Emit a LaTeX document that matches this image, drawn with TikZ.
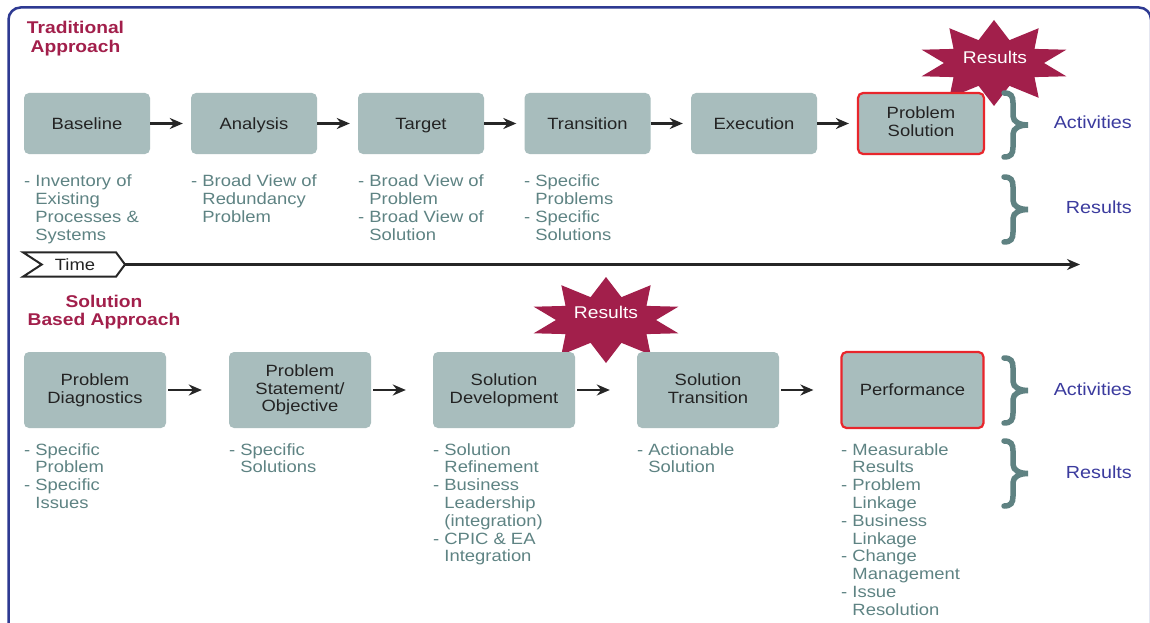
\documentclass[tikz,border=0pt]{standalone}
\usepackage{fontspec}
\setmainfont{Liberation Sans}[FakeStretch=1.13]
\usetikzlibrary{arrows.meta,calc}
\definecolor{boxfill}{HTML}{A8BDBD}
\definecolor{boxtext}{HTML}{232323}
\definecolor{listc}{HTML}{5E8383}
\definecolor{brc}{HTML}{5F8282}
\definecolor{lblue}{HTML}{3B3B9E}
\definecolor{crim}{HTML}{A21F4B}
\definecolor{hired}{HTML}{E8262C}
\definecolor{frameblue}{HTML}{2E3A92}
\newcommand\fs{\fontsize{16.3}{17.8}\selectfont}
\newcommand\ind{\phantom{- }}
\newcommand\topstrut{\rule{0pt}{15.3pt}}
\newcommand\botstrut{\rule[-3.5pt]{0pt}{3.5pt}}
\newcommand\mybrace[2]{%
  \pgfmathsetmacro\ma{(#1+#2)/2}%
  \draw[bracestyle] (1004,#1) .. controls (1011,#1) and (1013,#1+3) .. (1013,#1+10) -- (1013,\ma-9) .. controls (1013,\ma-3) and (1020,\ma) .. (1028,\ma) .. controls (1020,\ma) and (1013,\ma+3) .. (1013,\ma+9) -- (1013,#2-10) .. controls (1013,#2-3) and (1011,#2) .. (1004,#2);}
\newcommand\mystar[1]{%
  \fill[starc] ($(#1)+(90:76 and 43)$) \foreach \i [evaluate=\i as \rx using {mod(\i,2)==0?76:50}, evaluate=\i as \ry using {mod(\i,2)==0?43:24}] in {1,...,19} { -- ($(#1)+({90+18*\i}:{\rx} and {\ry})$) } -- cycle;}
\tikzset{
  box/.style={rectangle, rounded corners=5pt, fill=boxfill, text=boxtext, align=center, font=\fs, inner sep=0pt, execute at begin node=\topstrut, execute at end node=\botstrut},
  topbox/.style={box, minimum width=126pt, minimum height=61pt},
  botbox/.style={box, minimum width=142pt, minimum height=76pt},
  hl/.style={draw=hired, line width=2.2pt},
  lst/.style={anchor=base west, align=left, text=listc, font=\fs, inner sep=0pt},
  arr/.style={-{Stealth[length=13pt,width=11pt]}, line width=2.2pt, black!85},
  title/.style={text=crim, font=\fontsize{17}{18.5}\selectfont\bfseries, align=center, inner sep=0pt},
  side/.style={text=lblue, font=\fontsize{17.5}{19}\selectfont, anchor=east, inner sep=0pt},
  bracestyle/.style={draw=brc, line width=5.5pt, line cap=round},
  starc/.style={fill=crim},
  startext/.style={text=white, font=\fontsize{17}{18}\selectfont, inner sep=0pt},
}
\begin{document}
\begin{tikzpicture}[x=1pt,y=-1pt]
\useasboundingbox (0,0) rectangle (1150,623);
\fill[white] (0,0) rectangle (1150,623);
% frame
\begin{scope}
\clip (0,0) rectangle (1150,623);
\draw[frameblue, line width=2.5pt, rounded corners=12pt] (8.5,650) -- (8.5,7.5) -- (1151,7.5) -- (1151,650);
\end{scope}
% titles
\node[title] (t1) at (75.5,38.5) {Traditional\\Approach};
\node[title] (t2) at (104,312) {Solution\\Based Approach};
% stars
\coordinate (s1) at (994,63);
\mystar{s1}
\node[startext] (r1) at (995,57) {Results};
\coordinate (s2) at (606,320);
\mystar{s2}
\node[startext] (r2) at (606,312) {Results};
% top row
\node[topbox] (a1) at (87,123.5) {Baseline};
\node[topbox] (a2) at (254,123.5) {Analysis};
\node[topbox] (a3) at (421,123.5) {Target};
\node[topbox] (a4) at (587.5,123.5) {Transition};
\node[topbox] (a5) at (754,123.5) {Execution};
\node[topbox, hl] (a6) at (921,123.5) {Problem\\Solution};
\foreach \p/\q in {a1/a2,a2/a3,a3/a4,a4/a5,a5/a6}
  \draw[arr, shorten >=8pt] (\p.east) -- (\q.west);
% top lists (anchor = baseline of the last line)
\node[lst] (l1) at (24,240) {- Inventory of\\\ind Existing\\\ind Processes \&\\\ind Systems};
\node[lst] (l2) at (191,222.2) {- Broad View of\\\ind Redundancy\\\ind Problem};
\node[lst] (l3) at (358,240) {- Broad View of\\\ind Problem\\- Broad View of\\\ind Solution};
\node[lst] (l4) at (524,240) {- Specific\\\ind Problems\\- Specific\\\ind Solutions};
% time
\draw[black!85, line width=2pt, fill=white, line join=miter] (23,252.3) -- (116,252.3) -- (125,264.5) -- (116,276.7) -- (23,276.7) -- (41.7,264.5) -- cycle;
\node[font=\fs, text=boxtext, inner sep=0pt] (time) at (75,264.5) {Time};
\coordinate (ttip) at (125,264.5);
\coordinate (tend) at (1080,264.5);
\draw[arr] (ttip) -- (tend);
% bottom row
\node[botbox] (b1) at (95,390) {Problem\\Diagnostics};
\node[botbox] (b2) at (300,390) {Problem\\Statement/\\Objective};
\node[botbox] (b3) at (504,390) {Solution\\Development};
\node[botbox] (b4) at (708,390) {Solution\\Transition};
\node[botbox, hl] (b5) at (912.5,390) {Performance};
\foreach \p/\q in {b1/b2,b2/b3,b3/b4,b4/b5}
  \draw[arr, shorten <=2pt, shorten >=27pt] (\p.east) -- (\q.west);
% bottom lists (anchor = baseline of the last line)
\node[lst] (m1) at (24,508.4) {- Specific\\\ind Problem\\- Specific\\\ind Issues};
\node[lst] (m2) at (229,472.8) {- Specific\\\ind Solutions};
\node[lst] (m3) at (433,561.8) {- Solution\\\ind Refinement\\- Business\\\ind Leadership\\\ind (integration)\\- CPIC \& EA\\\ind Integration};
\node[lst] (m4) at (637,472.8) {- Actionable\\\ind Solution};
\node[lst] (m5) at (841,615.2) {- Measurable\\\ind Results\\- Problem\\\ind Linkage\\- Business\\\ind Linkage\\- Change\\\ind Management\\- Issue\\\ind Resolution};
% braces
\mybrace{93}{157}
\mybrace{177}{242}
\mybrace{358}{423}
\mybrace{441}{506}
\node[side] (act1) at (1132,122) {Activities};
\node[side] (res1) at (1132,207) {Results};
\node[side] (act2) at (1132,389) {Activities};
\node[side] (res2) at (1132,472) {Results};
\end{tikzpicture}
\end{document}
